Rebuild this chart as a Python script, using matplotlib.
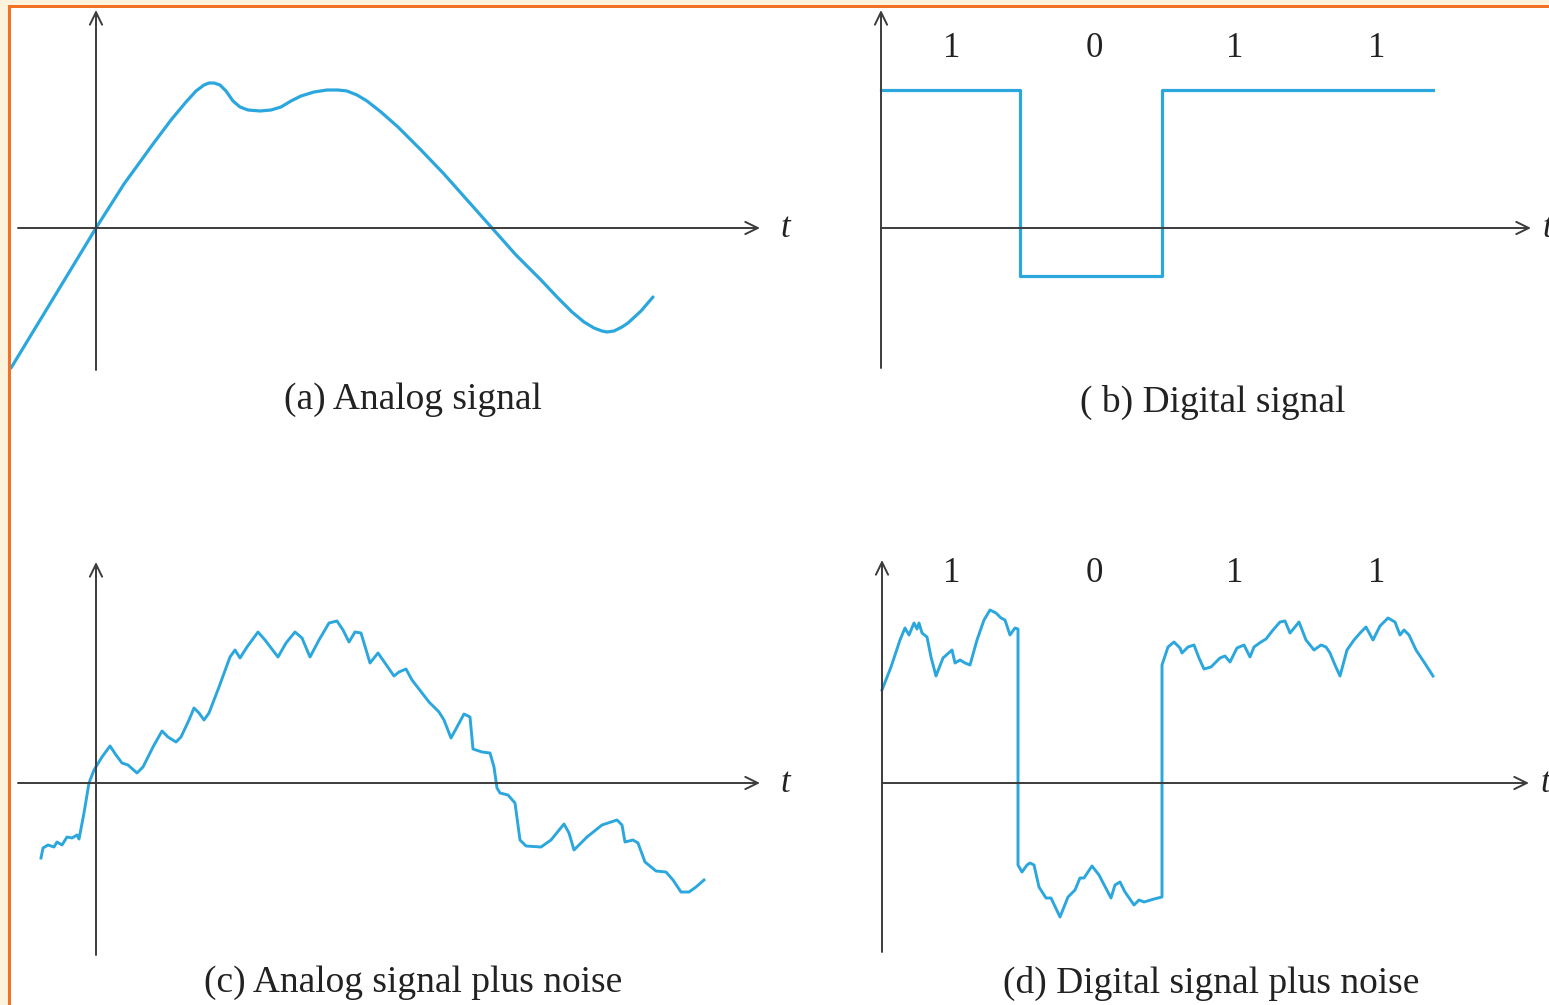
"""Analog vs digital signals, clean and with noise (four small sketch panels)."""

import matplotlib
matplotlib.use("Agg")
import matplotlib.pyplot as plt
from matplotlib.patches import Rectangle

W, H = 1549, 1005
PX = 100.0  # pixels per signal unit, same on both axes

# (a) analog signal: time, amplitude
analog_t = [-0.85, 0.00, 0.28, 0.57, 0.75, 0.90, 1.00, 1.08, 1.13, 1.18, 1.24,
            1.30, 1.37, 1.44, 1.52, 1.64, 1.75, 1.85, 1.95, 2.05, 2.18, 2.31,
            2.42, 2.51, 2.61, 2.71, 2.85, 3.02, 3.25, 3.48, 3.72, 3.96, 4.20,
            4.45, 4.62, 4.76, 4.88, 4.98, 5.06, 5.11, 5.18, 5.26, 5.32, 5.45,
            5.57]
analog_v = [-1.40, 0.00, 0.44, 0.84, 1.08, 1.26, 1.37, 1.43, 1.45, 1.45, 1.43,
            1.37, 1.27, 1.21, 1.18, 1.17, 1.18, 1.21, 1.27, 1.32, 1.36, 1.38,
            1.38, 1.37, 1.33, 1.27, 1.16, 1.01, 0.78, 0.54, 0.27, 0.00, -0.27,
            -0.52, -0.70, -0.84, -0.94, -1.00, -1.03, -1.04, -1.03, -0.99, -0.95,
            -0.83, -0.69]

# (b) digital signal, drawn as steps
bits = ["1", "0", "1", "1"]
bit_centers = [0.71, 2.13, 3.54, 4.96]
digital_t = [0.00, 1.39, 2.81, 5.52]
digital_v = [1.38, -0.48, 1.38, 1.38]

# (c) analog signal plus noise
noisy_analog_t = [-0.55, -0.53, -0.48, -0.42, -0.39, -0.34, -0.29, -0.24, -0.19, -0.17,
                  -0.12, -0.07, -0.02, 0.06, 0.14, 0.20, 0.26, 0.32, 0.41, 0.47,
                  0.57, 0.66, 0.72, 0.80, 0.85, 0.93, 0.98, 1.03, 1.08, 1.13,
                  1.23, 1.34, 1.39, 1.44, 1.51, 1.62, 1.69, 1.82, 1.90, 1.99,
                  2.06, 2.14, 2.23, 2.33, 2.41, 2.47, 2.53, 2.59, 2.65, 2.74,
                  2.82, 2.89, 2.98, 3.03, 3.10, 3.16, 3.33, 3.43, 3.48, 3.55,
                  3.61, 3.68, 3.74, 3.77, 3.86, 3.94, 3.98, 4.01, 4.04, 4.12,
                  4.19, 4.24, 4.30, 4.45, 4.55, 4.68, 4.73, 4.78, 4.91, 5.06,
                  5.21, 5.26, 5.29, 5.37, 5.42, 5.49, 5.60, 5.70, 5.77, 5.85,
                  5.93, 6.00, 6.08]
noisy_analog_v = [-0.75, -0.65, -0.62, -0.64, -0.59, -0.62, -0.54, -0.55, -0.52, -0.56,
                  -0.30, 0.00, 0.13, 0.26, 0.37, 0.28, 0.20, 0.18, 0.10, 0.16,
                  0.36, 0.52, 0.46, 0.41, 0.46, 0.63, 0.75, 0.70, 0.63, 0.70,
                  0.96, 1.26, 1.33, 1.25, 1.36, 1.51, 1.43, 1.26, 1.40, 1.51,
                  1.45, 1.26, 1.43, 1.60, 1.62, 1.53, 1.41, 1.51, 1.50, 1.20,
                  1.30, 1.20, 1.07, 1.11, 1.14, 1.03, 0.81, 0.71, 0.63, 0.45,
                  0.56, 0.69, 0.66, 0.34, 0.31, 0.30, 0.16, -0.05, -0.10, -0.12,
                  -0.20, -0.57, -0.63, -0.64, -0.57, -0.41, -0.50, -0.67, -0.54, -0.42,
                  -0.37, -0.42, -0.59, -0.57, -0.60, -0.79, -0.88, -0.89, -0.97, -1.09,
                  -1.09, -1.04, -0.97]

# (d) digital signal plus noise
noisy_digital_t = [0.00, 0.09, 0.18, 0.23, 0.27, 0.32, 0.35, 0.37, 0.40, 0.45,
                   0.49, 0.54, 0.61, 0.70, 0.73, 0.78, 0.83, 0.88, 0.95, 1.02,
                   1.08, 1.14, 1.19, 1.23, 1.28, 1.33, 1.36, 1.36, 1.40, 1.45,
                   1.48, 1.52, 1.57, 1.64, 1.69, 1.78, 1.86, 1.93, 1.98, 2.02,
                   2.10, 2.17, 2.29, 2.33, 2.38, 2.43, 2.52, 2.57, 2.62, 2.72,
                   2.80, 2.80, 2.86, 2.92, 2.98, 3.00, 3.06, 3.12, 3.17, 3.22,
                   3.29, 3.38, 3.43, 3.48, 3.55, 3.62, 3.68, 3.72, 3.79, 3.84,
                   3.91, 3.98, 4.03, 4.08, 4.13, 4.17, 4.24, 4.32, 4.39, 4.44,
                   4.48, 4.53, 4.58, 4.65, 4.72, 4.79, 4.84, 4.91, 4.98, 5.06,
                   5.13, 5.18, 5.22, 5.27, 5.34, 5.42, 5.51]
noisy_digital_v = [0.93, 1.16, 1.43, 1.55, 1.48, 1.60, 1.54, 1.60, 1.50, 1.46,
                   1.26, 1.07, 1.25, 1.33, 1.20, 1.23, 1.20, 1.18, 1.43, 1.63,
                   1.73, 1.70, 1.65, 1.63, 1.48, 1.55, 1.54, -0.82, -0.89, -0.82,
                   -0.80, -0.82, -1.04, -1.15, -1.15, -1.34, -1.14, -1.07, -0.95, -0.95,
                   -0.83, -0.92, -1.15, -1.02, -0.99, -1.09, -1.22, -1.17, -1.19, -1.16,
                   -1.14, 1.18, 1.36, 1.41, 1.35, 1.30, 1.36, 1.38, 1.25, 1.14,
                   1.16, 1.25, 1.27, 1.21, 1.35, 1.38, 1.26, 1.36, 1.41, 1.44,
                   1.53, 1.61, 1.62, 1.50, 1.56, 1.61, 1.43, 1.33, 1.38, 1.36,
                   1.30, 1.18, 1.07, 1.33, 1.43, 1.51, 1.56, 1.43, 1.57, 1.65,
                   1.61, 1.48, 1.53, 1.48, 1.33, 1.21, 1.07]

captions = ["(a) Analog signal", "( b) Digital signal",
            "(c) Analog signal plus noise", "(d) Digital signal plus noise"]

SIG = "#2ba7de"
AXC = "#3c3c3c"
SERIF = "Liberation Serif"
FS = 25

fig = plt.figure(figsize=(W / 100, H / 100), dpi=100, facecolor="#fdf3dc")
# orange frame on top/left, white page inside
fig.patches.append(Rectangle((8 / W, 0), 1, 1 - 5 / H, transform=fig.transFigure,
                             facecolor="#f07222", edgecolor="none", zorder=-2))
fig.patches.append(Rectangle((11 / W, 0), 1, 1 - 8 / H, transform=fig.transFigure,
                             facecolor="white", edgecolor="none", zorder=-1))


def panel(x0, y0, left, right, top, bottom):
    """Axes over a pixel box, origin at (x0, y0) px, PX pixels per unit."""
    ax = fig.add_axes([left / W, 1 - bottom / H, (right - left) / W, (bottom - top) / H])
    ax.set_xlim((left - x0) / PX, (right - x0) / PX)
    ax.set_ylim((y0 - bottom) / PX, (y0 - top) / PX)
    ax.axis("off")
    ax.patch.set_alpha(0)
    return ax


def axes_arrows(ax, t0, t1, v0, v1, tlabel_t):
    style = "->,head_length=0.45,head_width=0.22"
    kw = dict(arrowstyle=style, lw=1.4, color=AXC, shrinkA=0, shrinkB=0,
              mutation_scale=20)
    ax.annotate("", xy=(t1, 0), xytext=(t0, 0), arrowprops=kw, annotation_clip=False)
    ax.annotate("", xy=(0, v1), xytext=(0, v0), arrowprops=kw, annotation_clip=False)
    ax.text(tlabel_t, 0, "t", family=SERIF, style="italic", fontsize=FS,
            ha="center", va="center", color="#222")


ax_a = panel(96, 228, 11, 800, 8, 430)
axes_arrows(ax_a, -0.78, 6.64, -1.42, 2.18, 6.89)
ax_a.plot(analog_t, analog_v, color=SIG, lw=2.3, solid_capstyle="round",
          solid_joinstyle="round")

ax_b = panel(881, 228, 800, 1549, 8, 430)
axes_arrows(ax_b, 0.0, 6.50, -1.40, 2.18, 6.66)
ax_b.plot(digital_t, digital_v, color=SIG, lw=2.3, drawstyle="steps-post")
for c, b in zip(bit_centers, bits):
    ax_b.text(c, 1.80, b, family=SERIF, fontsize=FS, ha="center", va="center", color="#222")

ax_c = panel(96, 783, 11, 800, 430, 1005)
axes_arrows(ax_c, -0.78, 6.64, -1.72, 2.21, 6.89)
ax_c.plot(noisy_analog_t, noisy_analog_v, color=SIG, lw=2.1, solid_joinstyle="round")

ax_d = panel(882, 783, 800, 1549, 430, 1005)
axes_arrows(ax_d, 0.0, 6.47, -1.69, 2.23, 6.63)
ax_d.plot(noisy_digital_t, noisy_digital_v, color=SIG, lw=2.1, solid_joinstyle="round")
for c, b in zip(bit_centers, bits):
    ax_d.text(c - 0.01, 2.10, b, family=SERIF, fontsize=FS, ha="center", va="center", color="#222")

for (cx, cy), text in zip([(413, 400), (1213, 402), (413, 983), (1211, 983)], captions):
    fig.text(cx / W, 1 - cy / H, text, family=SERIF, fontsize=27,
             ha="center", va="center", color="#222")

fig.savefig("out.png", dpi=100, facecolor=fig.get_facecolor())
